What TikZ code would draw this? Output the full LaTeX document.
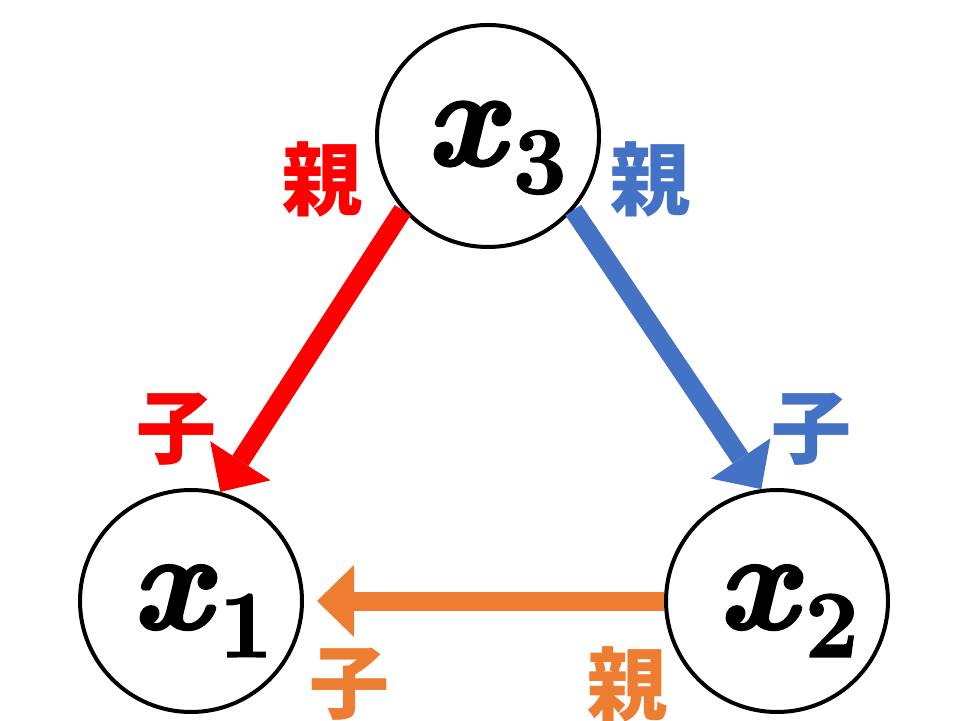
\RequirePackage{fix-cm}
\documentclass[tikz,border=0pt]{standalone}
\usepackage{amsmath}
\usepackage{fontspec}
\newfontfamily\cjk{Noto Sans CJK JP}
\newfontfamily\vfont{Latin Modern Roman}[FakeBold=2]
\usetikzlibrary{arrows.meta}
\definecolor{cred}{HTML}{FF0000}
\definecolor{cblue}{HTML}{4472C4}
\definecolor{corange}{HTML}{ED7D31}
\newcommand\bvar[2]{{\vfont\bfseries\itshape #1\/}\kern3pt\raisebox{-28pt}{\vfont\bfseries\fontsize{95}{100}\selectfont #2}}
\tikzset{
  vcirc/.style={circle,draw=black,line width=4pt,minimum size=222pt,inner sep=0pt},
  vlab/.style={inner sep=0pt,font=\fontsize{140}{150}\selectfont},
  jlab/.style={inner sep=0pt,font=\cjk\bfseries\fontsize{80}{80}\selectfont},
  bigarrow/.style={line width=19pt,-{Triangle[length=37pt,width=72pt,line width=0pt]}},
}
\begin{document}
\begin{tikzpicture}[x=1pt,y=1pt]
\useasboundingbox (0,0) rectangle (960,720);
\node[vcirc] (x3) at (488,584) {};
\node[vcirc] (x1) at (191,119) {};
\node[vcirc] (x2) at (777,119) {};
\node[vlab] (t3) at (496,572) {\bvar{x}{3}};
\node[vlab] (t1) at (202,109) {\bvar{x}{1}};
\node[vlab] (t2) at (788,109) {\bvar{x}{2}};
\coordinate (o1) at ([xshift=13pt]x1.east);
\draw[bigarrow,cred] (x3.221) -- (x1.75);
\draw[bigarrow,cblue] (x3.319) -- (x2.98);
\draw[bigarrow,corange] (x2.west) -- (o1);
\node[jlab,text=cred] (p31) at (322,541) {親};
\node[jlab,text=cred] (c31) at (176,291) {子};
\node[jlab,text=cblue] (p32) at (650,541) {親};
\node[jlab,text=cblue] (c32) at (811,291) {子};
\node[jlab,text=corange] (c21) at (349,36) {子};
\node[jlab,text=corange] (p21) at (627,36) {親};
\end{tikzpicture}
\end{document}
